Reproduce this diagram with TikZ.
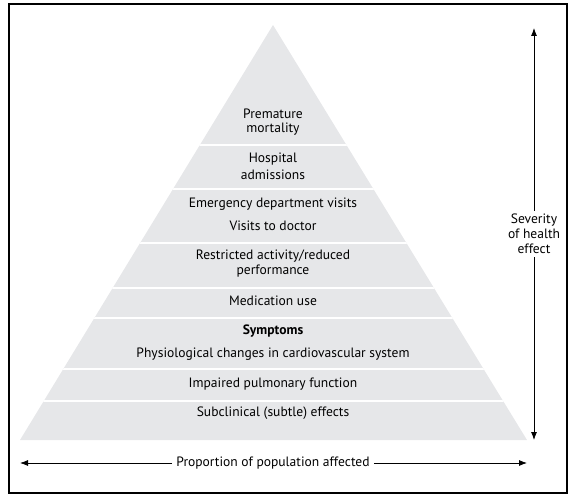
\documentclass[tikz,border=0pt]{standalone}
\usepackage{fontspec}
\setmainfont{PT Sans}
\usetikzlibrary{arrows.meta}
\definecolor{pyr}{RGB}{230,231,233}
\tikzset{
  lbl/.style={font=\fontsize{13.6}{15}\selectfont, inner sep=0pt, anchor=center},
  sep/.style={draw=white, line width=1.2bp},
  arr/.style={line width=0.8bp, -{Latex[length=8bp,width=6bp]}},
}
\begin{document}
\begin{tikzpicture}[x=1bp,y=-1bp]
\useasboundingbox (0,0) rectangle (582,502);
\draw[line width=1.2bp] (9,4) rectangle (567,493);
% pyramid
\fill[pyr] (273,25) -- (527,440) -- (20,440) -- cycle;
\begin{scope}
\clip (273,25) -- (527,440) -- (20,440) -- cycle;
\foreach \yy in {145,189,243,288,318,369,401}
  \draw[sep] (0,\yy) -- (582,\yy);
\end{scope}
% labels
\node[lbl] (pm1) at (273,114) {Premature};
\node[lbl] (pm2) at (273,129) {mortality};
\node[lbl] (ha1) at (273,159) {Hospital};
\node[lbl] (ha2) at (273,175) {admissions};
\node[lbl] (ed) at (273,204) {Emergency department visits};
\node[lbl] (vd) at (273,226) {Visits to doctor};
\node[lbl] (ra1) at (273,256) {Restricted activity/reduced};
\node[lbl] (ra2) at (273,271) {performance};
\node[lbl] (mu) at (273,301) {Medication use};
\node[lbl,font=\fontsize{13.6}{15}\selectfont\bfseries] (sy) at (273,331) {Symptoms};
\node[lbl] (pc) at (273,354) {Physiological changes in cardiovascular system};
\node[lbl] (ip) at (273,384) {Impaired pulmonary function};
\node[lbl] (sc) at (273,413) {Subclinical (subtle) effects};
% severity arrow
\coordinate (vt) at (534,28);
\coordinate (vb) at (534,440);
\node[lbl, align=center, inner sep=3bp, font=\fontsize{13.6}{15}\selectfont] (sev) at (534,234) {Severity\\of health\\effect};
\draw[arr] (sev.north) -- (vt);
\draw[arr] (sev.south) -- (vb);
% proportion arrow
\coordinate (hl) at (20,463);
\coordinate (hr) at (527,463);
\node[lbl, inner sep=4bp] (prop) at (273,463) {Proportion of population affected};
\draw[arr] (prop.west) -- (hl);
\draw[arr] (prop.east) -- (hr);
\end{tikzpicture}
\end{document}
